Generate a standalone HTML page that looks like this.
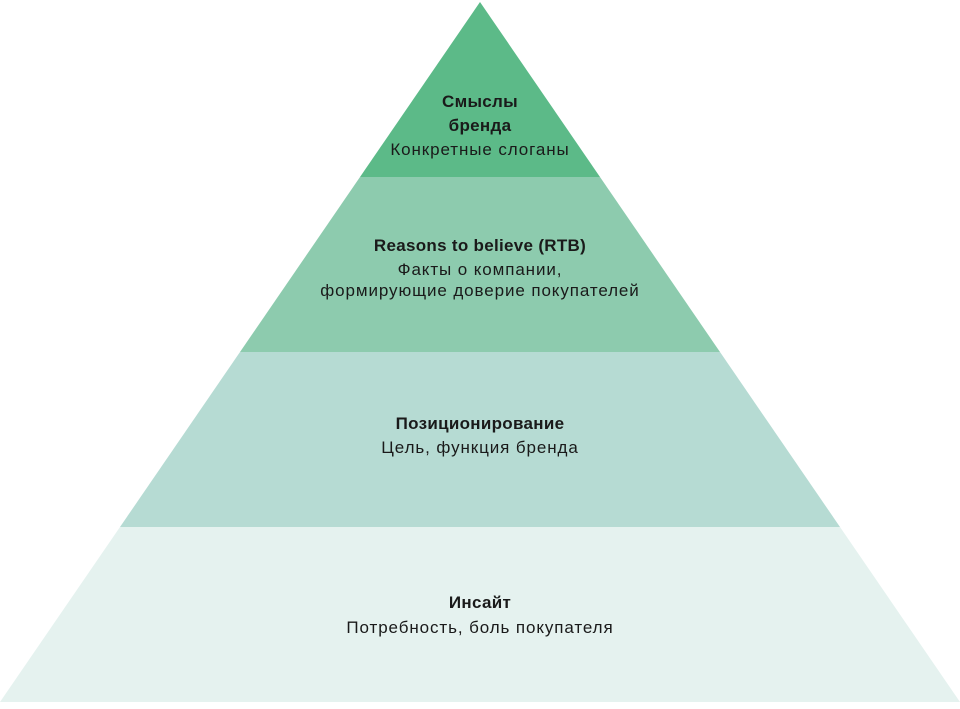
<!DOCTYPE html>
<html><head><meta charset="utf-8"><style>
body{margin:0;background:#fff;width:960px;height:704px;overflow:hidden}
text{font-family:"Liberation Sans","DejaVu Sans",sans-serif;font-size:17px;fill:#1a1a1a;text-anchor:middle;letter-spacing:0.9px}
.b{font-weight:bold;letter-spacing:0.3px}
</style></head><body>
<svg width="960" height="704" viewBox="0 0 960 704">
<polygon points="480,2 600,177 360,177" fill="#5cba88"/>
<polygon points="360,177 600,177 720,352 240,352" fill="#8dcbae"/>
<polygon points="240,352 720,352 840,527 120,527" fill="#b6dbd3"/>
<polygon points="120,527 840,527 960,702 0,702" fill="#e5f2ef"/>
<text class="b" x="480" y="107">Смыслы</text>
<text class="b" x="480" y="131">бренда</text>
<text x="480" y="155">Конкретные слоганы</text>
<text class="b" x="480" y="251">Reasons to believe (RTB)</text>
<text x="480" y="275">Факты о компании,</text>
<text x="480" y="296">формирующие доверие покупателей</text>
<text class="b" x="480" y="429">Позиционирование</text>
<text x="480" y="453">Цель, функция бренда</text>
<text class="b" x="480" y="608">Инсайт</text>
<text x="480" y="633">Потребность, боль покупателя</text>
</svg>
</body></html>
